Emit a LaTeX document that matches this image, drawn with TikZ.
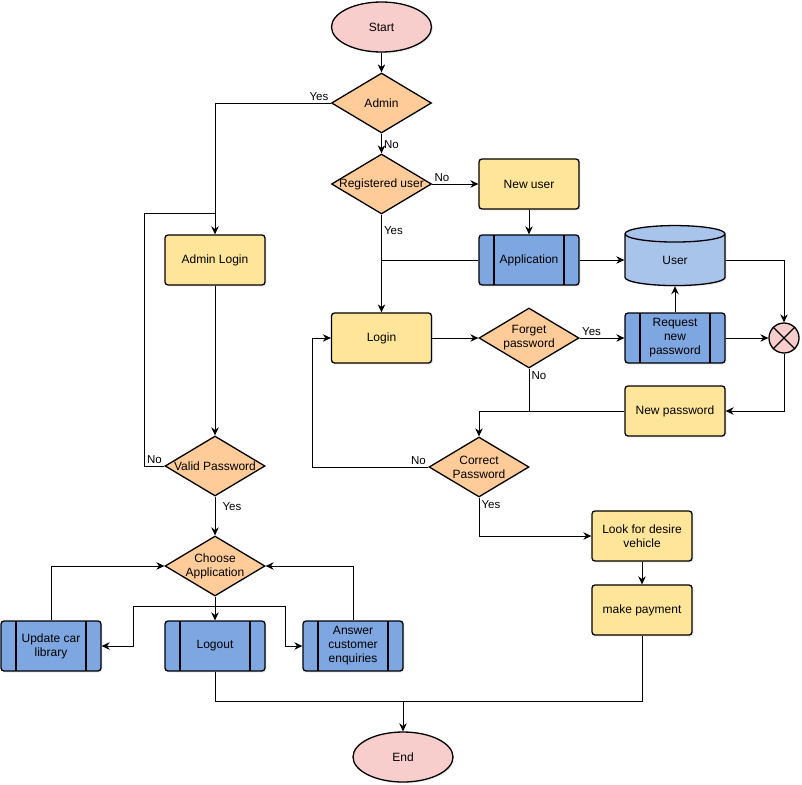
\documentclass[tikz,border=0pt]{standalone}
\usepackage{fontspec}
\setmainfont{Liberation Sans}
\usepackage{xcolor}
\definecolor{termpink}{HTML}{F8CECC}
\definecolor{decorange}{HTML}{FFCC99}
\definecolor{stepyellow}{HTML}{FFE599}
\definecolor{procblue}{HTML}{7EA6E0}
\definecolor{storeblue}{HTML}{A9C4EB}
\usetikzlibrary{shapes.geometric,arrows.meta,shadows}
\tikzstyle{softshadow} = [drop shadow={opacity=0.15, shadow xshift=1.5pt, shadow yshift=-1.5pt}]
\tikzstyle{terminal} = [ellipse, draw, fill=termpink, line width=1.3pt,
  minimum width=100pt, minimum height=50pt, inner sep=0pt, softshadow]
\tikzstyle{decision} = [diamond, draw, fill=decorange, line width=1.3pt,
  minimum width=100pt, minimum height=60pt, shape aspect=1.67, inner xsep=-8pt, inner ysep=0pt, align=center]
\tikzstyle{stepbox} = [rectangle, draw, rounded corners=3pt, fill=stepyellow, line width=1.3pt,
  minimum width=100pt, minimum height=50pt, inner sep=1pt, align=center, softshadow]
\tikzstyle{process} = [stepbox, fill=procblue,
  path picture={\draw[line width=1.3pt]
    ([xshift=15pt]path picture bounding box.north west) -- ([xshift=15pt]path picture bounding box.south west)
    ([xshift=-15pt]path picture bounding box.north east) -- ([xshift=-15pt]path picture bounding box.south east);}]
\tikzstyle{store} = [cylinder, shape border rotate=90, aspect=0.65, draw, fill=storeblue, line width=1.3pt,
  minimum width=100pt, minimum height=60pt, inner sep=0pt, softshadow]
\tikzstyle{junction} = [circle, draw, fill=termpink, line width=1.3pt, minimum size=30pt, inner sep=0pt]
\tikzstyle{edgelabel} = [inner sep=2pt, font=\fontsize{11.5}{14}\selectfont]

\begin{document}
\begin{tikzpicture}[x=1pt, y=-1pt, line width=1pt, >={Stealth[length=8pt,width=7.5pt]},
  font=\fontsize{12}{14}\selectfont]
  \useasboundingbox (0,0) rectangle (802,784);
  \node[terminal] (start) at (381.5,27) {Start};
  \node[decision] (admin) at (381.5,103) {Admin};
  \node[decision] (reg) at (381.5,184) {Registered user};
  \node[stepbox] (newuser) at (529,184) {New user};
  \node[process] (app) at (529,260) {Application};
  \node[store] (user) at (675,260) {User};
  \node[stepbox] (alogin) at (215,260) {Admin Login};
  \node[stepbox] (login) at (381.5,338) {Login};
  \node[decision] (forget) at (529,338) {Forget\\password};
  \node[process] (req) at (675,338) {Request\\new\\password};
  \node[junction] (merge) at (784,338) {};
  \node[stepbox] (newpw) at (675,411) {New password};
  \node[decision] (correct) at (479,467) {Correct\\Password};
  \node[decision] (valid) at (215,466) {Valid Password};
  \node[decision] (choose) at (215,566) {Choose\\Application};
  \node[process] (update) at (51,646) {Update car\\library};
  \node[process] (logout) at (215,646) {Logout};
  \node[process] (answer) at (353,646) {Answer\\customer\\enquiries};
  \node[stepbox] (look) at (642,536) {Look for desire\\vehicle};
  \node[stepbox] (pay) at (642,610) {make payment};
  \node[terminal] (end) at (403,757) {End};
  \draw[line width=1.3pt] (merge.45) -- (merge.225) (merge.135) -- (merge.315);

  \coordinate (adminjoin) at (215,213);
  \coordinate (split) at (215,606);
  \coordinate (endjoin) at (403,701);

  \path[draw,->] (start) -- (admin);
  \path[draw,->] (admin.west) -| node[edgelabel, at start, anchor=south east] {Yes} (alogin.north);
  \path[draw,->] (admin) -- node[edgelabel, pos=0.55, anchor=west] {No} (reg);
  \path[draw,->] (reg) -- node[edgelabel, at start, anchor=south west] {No} (newuser);
  \path[draw,->] (newuser) -- (app);
  \path[draw,->] (reg) -- node[edgelabel, pos=0.1, anchor=north west] {Yes} (login);
  \path[draw] (app.west) -- (app.west -| reg.south);
  \path[draw,->] (app) -- (user);
  \path[draw,->] (user.east) -| (merge.north);
  \path[draw,->] (req) -- (user);
  \path[draw,->] (req) -- (merge);
  \path[draw,->] (merge.south) |- (newpw.east);
  \path[draw,->] (login) -- (forget);
  \path[draw,->] (forget) -- node[edgelabel, at start, anchor=south west] {Yes} (req);
  \path[draw] (forget.south) -- node[edgelabel, at start, anchor=north west] {No} (forget.south |- newpw.west);
  \path[draw,->] (newpw.west) -| (correct.north);
  \path[draw,->] (correct.west) -- node[edgelabel, at start, anchor=south east] {No} ++(-116,0) |- (login.west);
  \path[draw,->] (correct.south) |- node[edgelabel, at start, anchor=north west] {Yes} (look.west);
  \path[draw,->] (look) -- (pay);
  \path[draw,->] (pay.south) |- (endjoin) -- (end.north);
  \path[draw] (logout.south) |- (endjoin);
  \path[draw,->] (alogin) -- (valid);
  \path[draw] (valid.west) -- node[edgelabel, at start, anchor=south east] {No} ++(-20,0) |- (adminjoin);
  \path[draw,->] (valid) -- node[edgelabel, pos=0.08, anchor=north west, xshift=5pt] {Yes} (choose);
  \path[draw,->] (choose) -- (logout);
  \path[draw,->] (split) -- ++(-82,0) |- (update.east);
  \path[draw,->] (split) -- ++(70,0) |- (answer.west);
  \path[draw,->] (update.north) |- (choose.west);
  \path[draw,->] (answer.north) |- (choose.east);
\end{tikzpicture}
\end{document}
